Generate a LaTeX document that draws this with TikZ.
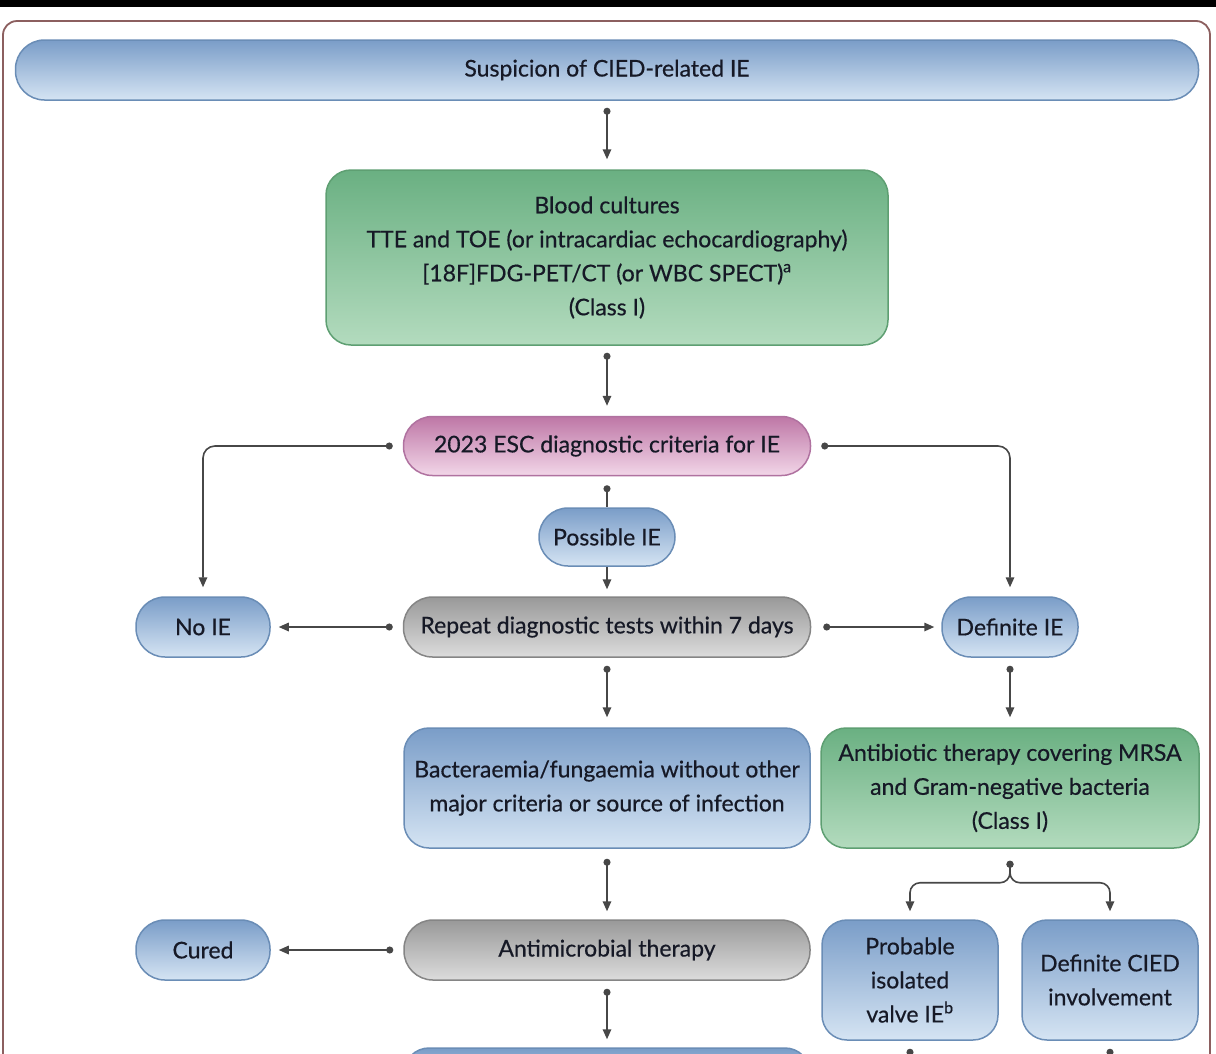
\documentclass[tikz,border=0pt]{standalone}
\usepackage{fontspec}
\setmainfont{Lato}[FakeBold=0.5]
\usetikzlibrary{arrows.meta}
\definecolor{txt}{HTML}{161926}
\definecolor{arrowcol}{HTML}{474747}
\definecolor{framecol}{HTML}{8C5F5F}
\definecolor{bluetop}{HTML}{7A9DC8}
\definecolor{bluebot}{HTML}{D5E4F3}
\definecolor{blueborder}{HTML}{6A8DB6}
\definecolor{greentop}{HTML}{6AB082}
\definecolor{greenbot}{HTML}{B3DBBE}
\definecolor{greenborder}{HTML}{5E9F72}
\definecolor{pinktop}{HTML}{BE77A6}
\definecolor{pinkbot}{HTML}{F2D6E8}
\definecolor{pinkborder}{HTML}{B072A0}
\definecolor{greytop}{HTML}{999999}
\definecolor{greybot}{HTML}{DCDCDC}
\definecolor{greyborder}{HTML}{858585}
\begin{document}
\begin{tikzpicture}[x=1pt,y=-1pt,
  boxbase/.style={line width=1.5pt, text=txt, align=center, inner sep=0pt,
    font=\fontsize{23}{34}\selectfont},
  bluebox/.style={boxbase, draw=blueborder, top color=bluetop, bottom color=bluebot},
  greenbox/.style={boxbase, draw=greenborder, top color=greentop, bottom color=greenbot},
  pinkbox/.style={boxbase, draw=pinkborder, top color=pinktop, bottom color=pinkbot},
  greybox/.style={boxbase, draw=greyborder, top color=greytop, bottom color=greybot},
  pill/.style={minimum height=60pt, rounded corners=29pt},
  conn/.style={draw=arrowcol, line width=1.6pt, {Circle[length=7pt]}-{Triangle[length=10pt,width=8.5pt]}},
  arrowonly/.style={draw=arrowcol, line width=1.6pt, -{Triangle[length=10pt,width=8.5pt]}},
  dotline/.style={draw=arrowcol, line width=1.6pt, {Circle[length=7pt]}-}]
\useasboundingbox (0,0) rectangle (1216,1053);
\clip (0,0) rectangle (1216,1053);
\fill[white] (0,0) rectangle (1216,1053);
\fill[black] (0,0) rectangle (1216,7);
\draw[framecol, line width=1.8pt, rounded corners=14pt] (3,21) rectangle (1210,1120);

% nodes
\node[bluebox, pill, minimum width=1183pt] (title) at (607,70) {Suspicion of CIED-related IE};
\node[greenbox, minimum width=562pt, minimum height=175pt, rounded corners=25pt] (tests) at (607,257.5)
  {Blood cultures\\TTE and TOE (or intracardiac echocardiography)\\{[18F]}FDG-PET/CT (or WBC SPECT)\textsuperscript{a}\\(Class I)};
\node[pinkbox, pill, minimum width=407pt, minimum height=59pt] (esc) at (607,446) {2023 ESC diagnostic criteria for IE};
\node[bluebox, pill, minimum width=136pt, minimum height=58pt] (possible) at (607,537) {Possible IE};
\node[greybox, pill, minimum width=407pt] (repeat) at (607,627) {Repeat diagnostic tests within 7 days};
\node[bluebox, pill, minimum width=134pt] (noie) at (203,627) {No IE};
\node[bluebox, pill, minimum width=136pt] (defie) at (1010,627) {Definite IE};
\node[bluebox, minimum width=406pt, minimum height=120pt, rounded corners=25pt] (bact) at (607,788)
  {Bacteraemia/fungaemia without other\\major criteria or source of infection};
\node[greenbox, minimum width=378pt, minimum height=120pt, rounded corners=25pt] (abx) at (1010,788)
  {Antibiotic therapy covering MRSA\\and Gram-negative bacteria\\(Class I)};
\node[greybox, pill, minimum width=406pt] (amt) at (607,950) {Antimicrobial therapy};
\node[bluebox, pill, minimum width=134pt] (cured) at (203,950) {Cured};
\node[bluebox, minimum width=176pt, minimum height=120pt, rounded corners=25pt] (prob) at (910,980)
  {Probable\\isolated\\valve IE\textsuperscript{b}};
\node[bluebox, minimum width=176pt, minimum height=120pt, rounded corners=25pt] (cied) at (1110,980)
  {Definite CIED\\involvement};
\node[bluebox, minimum width=406pt, minimum height=60pt, rounded corners=25pt] (next) at (607,1078) {};
\coordinate (probout) at (910,1080);
\coordinate (ciedout) at (1110,1080);

% connectors
\draw[conn, shorten <=7pt, shorten >=10pt] (title.south) -- (tests.north);
\draw[conn, shorten <=7pt, shorten >=10pt] (tests.south) -- (esc.north);
\draw[conn, rounded corners=12pt, shorten <=10pt, shorten >=9pt] (esc.west) -| (noie.north);
\draw[conn, rounded corners=12pt, shorten <=10pt, shorten >=9pt] (esc.east) -| (defie.north);
\draw[dotline, shorten <=9pt] (esc.south) -- (possible.north);
\draw[arrowonly, shorten >=7pt] (possible.south) -- (repeat.north);
\draw[conn, shorten <=10pt, shorten >=8pt] (repeat.west) -- (noie.east);
\draw[conn, shorten <=12pt, shorten >=7pt] (repeat.east) -- (defie.west);
\draw[conn, shorten <=8pt, shorten >=10pt] (repeat.south) -- (bact.north);
\draw[conn, shorten <=8pt, shorten >=10pt] (defie.south) -- (abx.north);
\draw[conn, shorten <=10pt, shorten >=8pt] (bact.south) -- (amt.north);
\draw[conn, shorten <=10pt, shorten >=8pt] (amt.west) -- (cured.east);
\draw[conn, shorten <=8pt, shorten >=8pt] (amt.south) -- (next.north);
\draw[conn, rounded corners=10pt, shorten <=12pt, shorten >=8pt] (abx.south) -- ++(0,34) -| (prob.north);
\draw[conn, rounded corners=10pt, shorten <=12pt, shorten >=8pt] (abx.south) -- ++(0,34) -| (cied.north);
\draw[dotline, shorten <=8pt] (prob.south) -- (probout);
\draw[dotline, shorten <=8pt] (cied.south) -- (ciedout);
\end{tikzpicture}
\end{document}
